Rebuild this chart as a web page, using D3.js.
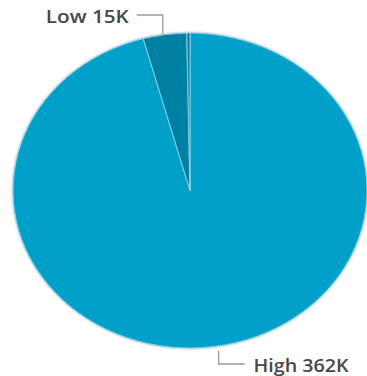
<!DOCTYPE html>
<html>
<head>
<meta charset="utf-8">
<script src="https://cdn.jsdelivr.net/npm/d3@7"></script>
<style>
  html, body { margin: 0; padding: 0; background: #fff; }
  svg { display: block; }
</style>
</head>
<body>
<svg id="chart" width="367" height="376"></svg>
<script>
// Slice data, in drawing order (clockwise from 12 o'clock)
const categories = ["High", "Low", "Other"];
const values = [362, 15, 1.1];           // thousands
const labels = ["High 362K", "Low 15K", null];
const colors = ["#02a0c9", "#0381a3", "#077c9d"];

const W = 367, H = 376;
const cx = 190, cy = 190.5, rx = 177, ry = 157.5;

const svg = d3.select("#chart");

const defs = svg.append("defs");
const shadow = defs.append("filter").attr("id", "edge")
  .attr("x", "-5%").attr("y", "-5%").attr("width", "110%").attr("height", "110%");
shadow.append("feDropShadow")
  .attr("dx", 0).attr("dy", 0).attr("stdDeviation", 1)
  .attr("flood-color", "#004e66").attr("flood-opacity", 0.6);

const pie = d3.pie().sort(null).value(d => d.value);
const arcs = pie(categories.map((c, i) => ({ name: c, value: values[i], label: labels[i], color: colors[i] })));

const arc = d3.arc().innerRadius(0).outerRadius(ry);

// pie is drawn as a circle and stretched horizontally into an ellipse
const g = svg.append("g")
  .attr("transform", `translate(${cx},${cy}) scale(${rx / ry},1)`)
  .attr("filter", "url(#edge)");

g.selectAll("path.slice")
  .data(arcs)
  .join("path")
  .attr("class", "slice")
  .attr("d", arc)
  .attr("fill", d => d.data.color)
  .attr("stroke", "#8fd6ea")
  .attr("stroke-width", 0.9)
  .attr("stroke-linejoin", "round")
  .attr("vector-effect", "non-scaling-stroke");

// Leader lines and value labels
const pt = a => [cx + rx * Math.sin(a), cy - ry * Math.cos(a)];
const labelG = svg.append("g");

arcs.filter(d => d.data.label).forEach(d => {
  const mid = (d.startAngle + d.endAngle) / 2;
  const [x0, y0] = pt(mid);
  const top = Math.cos(mid) > 0;
  const elbowY = top ? 15 : 364;
  const len = 26;
  const startX = top ? x0 - 2 : x0 + 5;
  labelG.append("path")
    .attr("d", `M${startX},${top ? y0 - 1 : y0 + 4}V${elbowY}H${top ? startX - len : startX + len}`)
    .attr("fill", "none")
    .attr("stroke", "#9a9a9a")
    .attr("stroke-width", 1.3);
  labelG.append("text")
    .attr("x", top ? startX - len - 8 : startX + len + 9)
    .attr("y", top ? 23 : 372)
    .attr("text-anchor", top ? "end" : "start")
    .attr("font-family", "'Open Sans', sans-serif")
    .attr("font-weight", 600)
    .attr("font-size", 18)
    .attr("textLength", top ? 83 : 95)
    .attr("lengthAdjust", "spacingAndGlyphs")
    .attr("fill", "#474747")
    .text(d.data.label);
});
</script>
</body>
</html>
